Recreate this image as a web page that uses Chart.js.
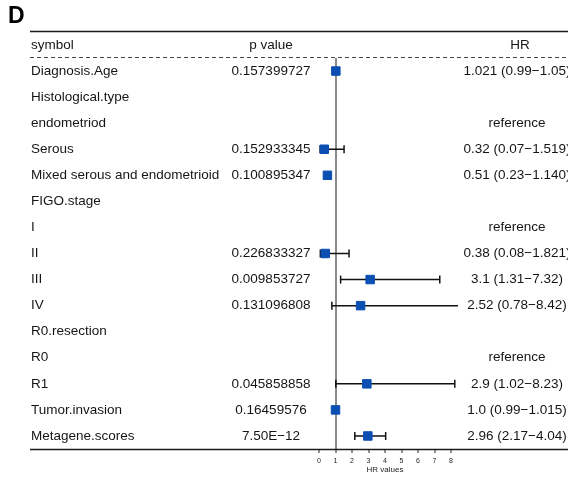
<!DOCTYPE html>
<html>
<head>
<meta charset="utf-8">
<title>Forest plot D</title>
<script src="https://cdn.jsdelivr.net/npm/chart.js@4.4.1/dist/chart.umd.min.js"></script>
<style>
  html, body { margin: 0; padding: 0; background: #fff; }
  #wrap { width: 568px; height: 477px; }
</style>
</head>
<body>
<div id="wrap"><canvas id="forest" width="568" height="477"></canvas></div>
<script>
// rows of the table, top to bottom
const symbols = ['Diagnosis.Age', 'Histological.type', 'endometriod', 'Serous',
  'Mixed serous and endometrioid', 'FIGO.stage', 'I', 'II', 'III', 'IV',
  'R0.resection', 'R0', 'R1', 'Tumor.invasion', 'Metagene.scores'];
const pValues = ['0.157399727', '', '', '0.152933345', '0.100895347', '', '',
  '0.226833327', '0.009853727', '0.131096808', '', '', '0.045858858',
  '0.16459576', '7.50E\u221212'];
const hr    = [1.021, null, null, 0.32, 0.51, null, null, 0.38, 3.1, 2.52, null, null, 2.9, 1.0, 2.96];
// whiskers as drawn in the figure (the mixed serous row shows no whisker there)
const lower = [0.99, null, null, 0.07, null, null, null, 0.08, 1.31, 0.78, null, null, 1.02, 0.99, 2.17];
const upper = [1.05, null, null, 1.519, null, null, null, 1.821, 7.32, 8.42, null, null, 8.23, 1.015, 4.04];
const hrLabels = ['1.021 (0.99\u22121.05)', '', 'reference', '0.32 (0.07\u22121.519)',
  '0.51 (0.23\u22121.140)', '', 'reference', '0.38 (0.08\u22121.821)', '3.1 (1.31\u22127.32)',
  '2.52 (0.78\u22128.42)', '', 'reference', '2.9 (1.02\u22128.23)', '1.0 (0.99\u22121.015)',
  '2.96 (2.17\u22124.04)'];
const xTicks = [0, 1, 2, 3, 4, 5, 6, 7, 8];

const FONT = '"Liberation Sans", Arial, Helvetica, sans-serif';
Chart.defaults.font.family = FONT;

// table text + rule lines, placed with the y scale
const tablePlugin = {
  id: 'table',
  afterDraw(chart) {
    const c = chart.ctx;
    const y = chart.scales.y;
    c.save();
    c.fillStyle = '#000';
    c.font = 'bold 23px ' + FONT;
    c.textBaseline = 'middle';
    c.fillText('D', 8, 17);

    c.strokeStyle = '#1a1a1a';
    c.lineWidth = 1.5;
    c.beginPath(); c.moveTo(30, 31.5); c.lineTo(568, 31.5); c.stroke();
    c.beginPath(); c.moveTo(30, 449.5); c.lineTo(568, 449.5); c.stroke();
    c.lineWidth = 1;
    c.strokeStyle = '#444';
    c.setLineDash([4, 3]);
    c.beginPath(); c.moveTo(30, 57.5); c.lineTo(568, 57.5); c.stroke();
    c.setLineDash([]);

    c.font = '13.5px ' + FONT;
    c.fillStyle = '#151515';
    c.textAlign = 'left';
    c.fillText('symbol', 31, 45);
    c.textAlign = 'center';
    c.fillText('p value', 271, 45);
    c.fillText('HR', 520, 45);

    symbols.forEach((s, i) => {
      const py = y.getPixelForValue(i);
      c.textAlign = 'left';
      c.fillText(s, 31, py);
      c.textAlign = 'center';
      if (pValues[i]) c.fillText(pValues[i], 271, py);
      if (hrLabels[i]) c.fillText(hrLabels[i], 517, py);
    });
    c.restore();
  }
};

const pts = (vals) => symbols.map((s, i) => vals[i] == null ? null : { x: vals[i], y: s }).filter(Boolean);

new Chart(document.getElementById('forest'), {
  type: 'scatter',
  data: {
    labels: symbols,
    datasets: [
      {
        label: 'HR',
        data: pts(hr),
        pointStyle: 'rect',
        pointRadius: 6,
        backgroundColor: '#0b4fb3',
        borderColor: '#0b4fb3',
        pointBorderWidth: 1,
        order: 0,
        clip: false
      },
      {
        label: 'lower',
        data: pts(lower),
        pointStyle: 'line',
        pointRotation: 90,
        pointRadius: 4,
        borderColor: '#111',
        pointBorderWidth: 1.5,
        order: 1,
        clip: false
      },
      {
        label: 'upper',
        data: pts(upper),
        pointStyle: 'line',
        pointRotation: 90,
        pointRadius: 4,
        borderColor: '#111',
        pointBorderWidth: 1.5,
        order: 1,
        clip: false
      },
      {
        type: 'bar',
        label: 'CI',
        indexAxis: 'y',
        data: symbols.map((s, i) => lower[i] == null ? null : [lower[i], upper[i]]),
        backgroundColor: '#111',
        barThickness: 1.5,
        inflateAmount: 0,
        order: 2,
        clip: false
      }
    ]
  },
  options: {
    responsive: false,
    animation: false,
    devicePixelRatio: 1,
    layout: { padding: { top: 58, left: 319, right: 117, bottom: 0 } },
    plugins: { legend: { display: false }, tooltip: { enabled: false } },
    scales: {
      x: {
        type: 'linear',
        position: 'bottom',
        min: 0,
        max: 8,
        offset: false,
        afterFit(scale) { scale.height = 28; },
        afterBuildTicks(scale) { scale.ticks = xTicks.map(v => ({ value: v })); },
        border: { display: false },
        grid: {
          offset: false,
          color: (ctx) => (ctx.tick && ctx.tick.value === 1) ? '#8a8a8a' : 'rgba(0,0,0,0)',
          lineWidth: (ctx) => (ctx.tick && ctx.tick.value === 1) ? 2 : 0,
          tickColor: '#222',
          tickWidth: 1,
          tickLength: 4
        },
        ticks: { font: { size: 7 }, color: '#222', padding: 4, maxRotation: 0, autoSkip: false },
        title: { display: true, text: 'HR values', font: { size: 8 }, color: '#222', padding: { top: 0, bottom: 2 } }
      },
      y: {
        type: 'category',
        labels: symbols,
        offset: true,
        display: false,
        grid: { display: false }
      }
    }
  },
  plugins: [tablePlugin]
});
</script>
</body>
</html>
